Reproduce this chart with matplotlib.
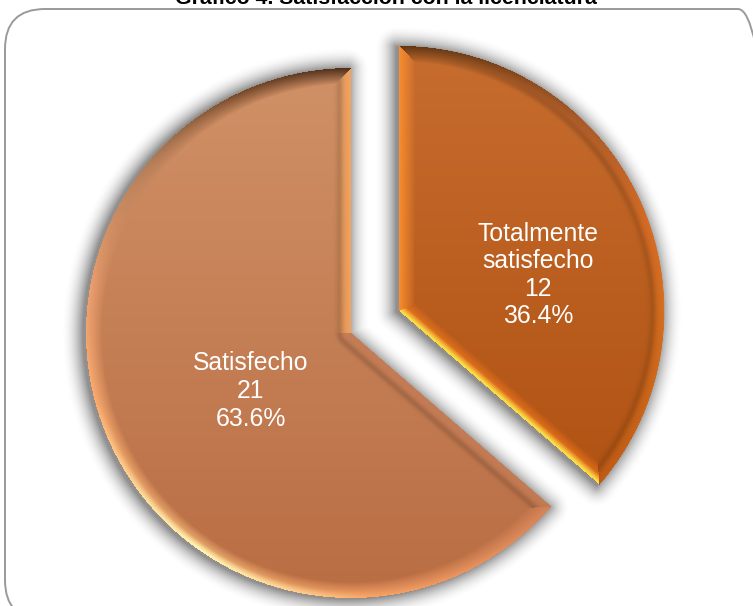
import numpy as np
import matplotlib
matplotlib.use("Agg")
import matplotlib.pyplot as plt
from matplotlib.colors import to_rgb
from matplotlib.patches import FancyBboxPatch

plt.rcParams['font.family'] = ['Liberation Sans', 'DejaVu Sans']

title = "Gráfico 4. Satisfacción con la licenciatura"
labels = ["Totalmente\nsatisfecho", "Satisfecho"]
counts = [12, 21]
percents = ["36.4%", "63.6%"]
explode = [0.2, 0.0]

W, H = 753, 606
CX, CY, R = 351.0, H - 333.0, 265.0
BEVEL = 16.0

fig = plt.figure(figsize=(W / 100, H / 100), dpi=100)
ax = fig.add_axes([0, 0, 1, 1])
ax.set_facecolor("white")

wedges, _ = ax.pie(counts, explode=[e * R for e in explode], startangle=90, counterclock=False,
                   center=(CX, CY), radius=R, colors=["#b85c1c", "#c47c52"], frame=True,
                   wedgeprops=dict(linewidth=0, zorder=3))
ax.set_xlim(0, W)
ax.set_ylim(0, H)
ax.set_aspect("auto")
ax.axis("off")

X, Y = np.meshgrid(np.arange(W) + 0.5, np.arange(H) + 0.5)


def unit(deg):
    a = np.radians(deg)
    return np.sin(a), np.cos(a)


def seg_dist(px, py, dx, dy):
    u = np.clip(px * dx + py * dy, 0, R)
    return np.hypot(px - u * dx, py - u * dy)


def geometry(cx, cy, a, b):
    px, py = X - cx, Y - cy
    r = np.hypot(px, py)
    th = np.degrees(np.arctan2(px, py)) % 360
    in_ang = (th >= a) & (th <= b)
    d1 = seg_dist(px, py, *unit(a))
    d2 = seg_dist(px, py, *unit(b))
    e1 = np.hypot(px - R * unit(a)[0], py - R * unit(a)[1])
    e2 = np.hypot(px - R * unit(b)[0], py - R * unit(b)[1])
    darc = np.where(in_ang, np.abs(r - R), np.minimum(e1, e2))
    inside = in_ang & (r <= R)
    dist = np.minimum(np.minimum(d1, d2), darc)
    return px, py, th, inside, dist, d1, d2, darc


def hexa(c):
    return np.array(to_rgb(c))


def ramp(s, stops):
    xs = [p[0] for p in stops]
    cols = np.array([hexa(p[1]) for p in stops])
    return np.stack([np.interp(s, xs, cols[:, i]) for i in range(3)], axis=-1)


spans = []
acc = 0.0
tot = sum(counts)
for c in counts:
    spans.append((acc * 360 / tot, (acc + c) * 360 / tot))
    acc += c

centers = [(w.center[0], w.center[1]) for w in wedges]

# soft shadow under both slices
shadow = np.zeros((H, W))
for (cx, cy), (a, b) in zip(centers, spans):
    *_, inside, dist, _, _, _ = geometry(cx - 3, cy - 1, a, b)
    sd = np.where(inside, 1.0, np.clip(1 - dist / 22.0, 0, 1) ** 2)
    shadow = np.maximum(shadow, sd)
rgba = np.zeros((H, W, 4))
rgba[..., :3] = 0.3
rgba[..., 3] = shadow * 0.62
ax.imshow(rgba, origin="lower", extent=(0, W, 0, H), zorder=2, interpolation="nearest", aspect="auto")

# rim colour by clock angle around each slice
arc_stops = [
    [(0, "#5e3612"), (20, "#74401a"), (45, "#a85a2a"), (70, "#d86c24"), (90, "#d8701f"), (131, "#c05c14")],
    [(131, "#d8845a"), (180, "#ffa868"), (215, "#ffc880"), (250, "#ffb070"), (280, "#eda070"),
     (310, "#b07c58"), (335, "#75492a"), (360, "#4a2c18")],
]
base_top = ["#c66c2e", "#d09066"]
base_bot = ["#ac4e0e", "#ba6e44"]

for i, ((cx, cy), (a, b)) in enumerate(zip(centers, spans)):
    px, py, th, inside, dist, d1, d2, darc = geometry(cx, cy, a, b)
    frac = np.clip((cy + R * 0.95 - Y) / (1.9 * R), 0, 1)[..., None]
    base = hexa(base_top[i]) * (1 - frac) + hexa(base_bot[i]) * frac
    arc_col = ramp(th, arc_stops[i])
    if i == 0:
        c1 = np.broadcast_to(hexa("#f88c30"), base.shape)
        c2 = np.broadcast_to(hexa("#f87c1c"), base.shape)
    else:
        c1 = np.broadcast_to(hexa("#c47c56"), base.shape)
        c2 = np.broadcast_to(hexa("#f4a45c"), base.shape)
    pick1 = (d1 <= d2) & (d1 <= darc)
    pick2 = (d2 < d1) & (d2 <= darc)
    pick_arc = ~pick1 & ~pick2
    edge = arc_col.copy()
    edge[pick1] = c1[pick1]
    edge[pick2] = c2[pick2]
    t = np.clip(dist / BEVEL, 0, 1)[..., None]
    img = base + (edge - base) * (1 - t) ** 0.9
    # darker line along the inner side of the bevel on the unlit faces
    band = np.exp(-((dist - BEVEL * 0.72) / 3.5) ** 2)[..., None]
    if i == 0:
        k = pick_arc[..., None] * np.clip((th[..., None] - 10) / 40, 0, 1) * 0.14
    else:
        k = (pick1 | pick2)[..., None] * 0.15
    img = img * (1 - k * band)
    # thin pale highlight on lit rims
    hi = np.clip(1.25 - dist / 6.0, 0, 1)[..., None]
    if i == 0:
        mask = pick2[..., None] * hi
        img = img * (1 - mask) + hexa("#f8dc48") * mask
    else:
        lit = np.clip(1 - np.abs(th[..., None] - 215) / 40, 0, 1)
        mask = pick_arc[..., None] * lit * hi
        img = img * (1 - mask) + hexa("#fff4b4") * mask
    out = np.zeros((H, W, 4))
    out[..., :3] = np.clip(img, 0, 1)
    out[..., 3] = inside.astype(float)
    ax.imshow(out, origin="lower", extent=(0, W, 0, H), zorder=4, interpolation="bilinear", aspect="auto")

ax.set_xlim(0, W)
ax.set_ylim(0, H)

# rounded chart border, running past the right and bottom edges of the picture
RAD = 40
left, right, top, bottom = 5, 778, H - 9, -14
ax.add_patch(FancyBboxPatch((left + RAD, bottom + RAD), right - left - 2 * RAD, top - bottom - 2 * RAD,
                            boxstyle=f"round,pad={RAD},rounding_size={RAD}",
                            fc="none", ec="#9a9a9a", lw=1.4, zorder=6, clip_on=True))

# labels
pos = [(538, H - 275), (251, H - 391)]
for (x, y), lab, n, p in zip(pos, labels, counts, percents):
    ax.text(x, y, f"{lab}\n{n}\n{p}", color="white", fontsize=17.8, ha="center", va="center",
            linespacing=1.19, zorder=7)

ax.text(386, H - 4, title, fontsize=15.35, fontweight="bold", ha="center", va="baseline", color="black",
        zorder=7, clip_on=True)

fig.savefig("out.png", dpi=100)
